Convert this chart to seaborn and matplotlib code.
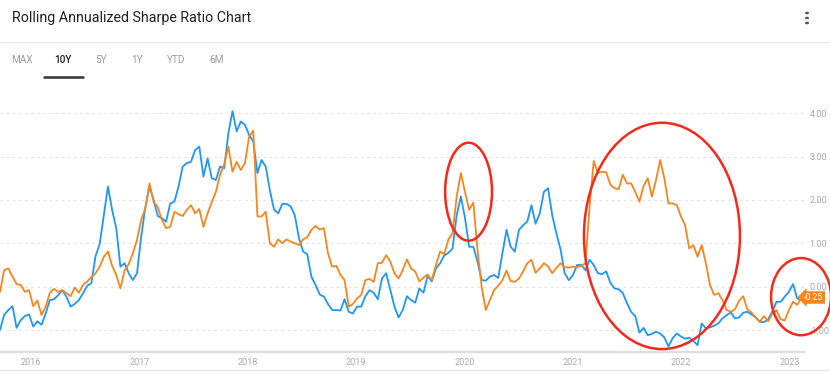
import numpy as np
import pandas as pd
import matplotlib
matplotlib.use("Agg")
import matplotlib.pyplot as plt
import matplotlib.dates as mdates
import matplotlib.transforms as mtransforms
from matplotlib.patches import Ellipse
from matplotlib.lines import Line2D
import seaborn as sns

# rolling annualized sharpe ratio, every 2 weeks
start_date = "2015-09-18"
end_date = "2023-02-19"

fund_blue = [
    -1.00, -0.65, -0.54, -0.45, -0.95, -0.77, -0.68, -0.64, -0.92, -0.80,
    -0.88, -0.62, -0.31, -0.29, -0.20, -0.08, -0.23, -0.46, -0.40, -0.31,
    -0.15, 0.02, 0.08, 0.70, 0.98, 1.65, 2.31, 1.77, 1.35, 0.46,
    0.54, 0.31, 0.15, 0.31, 1.15, 1.83, 2.31, 2.00, 1.63, 1.58,
    1.50, 1.92, 1.96, 2.31, 2.77, 2.85, 2.88, 3.15, 3.23, 2.54,
    2.96, 2.50, 2.46, 2.77, 2.73, 3.54, 4.05, 3.58, 3.81, 3.73,
    3.50, 3.35, 2.62, 2.92, 2.77, 2.22, 1.78, 1.69, 1.91, 1.91,
    1.85, 1.65, 1.12, 0.81, 0.75, 0.23, 0.04, -0.18, -0.23, -0.40,
    -0.54, -0.54, -0.55, -0.29, -0.58, -0.62, -0.46, -0.46, -0.22, -0.08,
    -0.14, -0.29, 0.19, 0.31, -0.08, -0.46, -0.71, -0.54, -0.22, -0.31,
    -0.37, -0.04, -0.14, 0.25, 0.12, 0.42, 0.54, 0.72, 0.78, 0.88,
    1.65, 2.08, 1.58, 0.92, 0.92, 0.58, 0.15, 0.14, 0.23, 0.27,
    0.20, 0.77, 1.31, 0.92, 0.81, 1.31, 1.42, 1.50, 1.88, 1.45,
    1.69, 2.19, 2.27, 1.65, 1.23, 0.86, 0.31, 0.15, 0.27, 0.50,
    0.50, 0.38, 0.62, 0.50, 0.31, 0.29, 0.35, 0.09, -0.04, -0.06,
    -0.15, -0.38, -0.58, -0.68, -1.06, -0.95, -1.12, -1.09, -1.04, -1.08,
    -1.17, -1.38, -1.19, -1.08, -1.15, -1.20, -1.18, -1.25, -1.35, -0.85,
    -0.96, -0.94, -0.90, -0.85, -0.73, -0.66, -0.59, -0.73, -0.71, -0.60,
    -0.58, -0.64, -0.71, -0.81, -0.82, -0.75, -0.58, -0.35, -0.35, -0.23,
    -0.12, 0.06, -0.27, -0.31,
]

fund_orange = [
    -0.12, 0.38, 0.42, 0.23, 0.06, 0.04, -0.12, -0.08, -0.45, -0.32,
    -0.65, -0.46, -0.14, -0.05, -0.12, -0.08, -0.15, -0.22, -0.02, -0.14,
    0.04, 0.12, 0.22, 0.31, 0.46, 0.69, 0.81, 0.48, 0.27, -0.04,
    0.37, 0.52, 0.77, 1.08, 1.54, 1.80, 2.38, 1.96, 1.83, 1.54,
    1.35, 1.38, 1.73, 1.67, 1.63, 1.77, 1.88, 1.69, 1.79, 1.38,
    1.69, 1.95, 2.19, 2.58, 2.83, 3.23, 2.65, 2.88, 2.69, 2.85,
    3.46, 3.60, 1.62, 1.62, 1.73, 1.00, 0.92, 1.09, 1.00, 1.09,
    1.04, 1.00, 0.96, 1.09, 1.14, 1.31, 1.40, 1.32, 1.35, 0.77,
    0.46, 0.48, 0.27, 0.15, -0.46, -0.40, -0.27, -0.19, 0.15, 0.18,
    0.11, 0.54, 0.55, 0.73, 0.58, 0.31, 0.19, 0.38, 0.63, 0.42,
    0.35, 0.12, 0.21, 0.28, 0.15, 0.50, 0.81, 0.75, 1.09, 1.23,
    2.08, 2.62, 2.18, 1.77, 1.94, 0.85, 0.00, -0.54, -0.31, -0.08,
    0.02, 0.15, 0.37, 0.13, 0.11, 0.19, 0.35, 0.54, 0.62, 0.32,
    0.42, 0.54, 0.47, 0.31, 0.43, 0.54, 0.45, 0.44, 0.46, 0.45,
    0.48, 0.54, 1.85, 2.90, 2.62, 2.65, 2.64, 2.35, 2.27, 2.25,
    2.58, 2.38, 2.38, 2.19, 1.96, 2.32, 2.50, 2.08, 2.46, 2.92,
    2.50, 1.92, 1.92, 1.88, 1.62, 1.42, 0.88, 0.96, 0.69, 0.96,
    0.54, 0.04, -0.19, -0.15, -0.31, -0.54, -0.58, -0.52, -0.33, -0.22,
    -0.52, -0.60, -0.71, -0.81, -0.68, -0.80, -0.62, -0.54, -0.75, -0.78,
    -0.54, -0.35, -0.42, -0.25,
]

# red hand drawn circles: centre date, centre value, width (days), height
circles = [
    ("2020-01-15", 2.19, 158, 2.26),
    ("2021-10-28", 1.17, 526, 5.22),
    ("2023-02-09", -0.23, 202, 1.78),
]

tabs = ["MAX", "10Y", "5Y", "1Y", "YTD", "6M"]
tab_x = [22, 63, 101, 137, 176, 217]
y_ticks = [-1, 0, 1, 2, 3, 4]

BLUE = "#2196F3"
ORANGE = "#F5861F"

dates = pd.date_range(start_date, periods=len(fund_blue), freq="14D")
df = pd.DataFrame({"date": dates, "blue": fund_blue, "orange": fund_orange})

sns.set_style("white")
plt.rcParams["font.family"] = ["Roboto", "DejaVu Sans"]

W, H = 830, 374
fig = plt.figure(figsize=(W / 100, H / 100), dpi=100)


def fx(x):
    return x / W


def fy(y):
    return 1 - y / H


ax = fig.add_axes([0, fy(352), fx(804), fy(92) - fy(352)])

sns.lineplot(data=df, x="date", y="blue", ax=ax, color=BLUE, lw=1.3)
sns.lineplot(data=df, x="date", y="orange", ax=ax, color=ORANGE, lw=1.3)

ax.set_xlim(pd.Timestamp(start_date), pd.Timestamp(end_date))
ax.set_ylim(-1.507, 4.49)
ax.set_xlabel("")
ax.set_ylabel("")

ax.xaxis.set_major_locator(mdates.YearLocator())
ax.xaxis.set_major_formatter(mdates.DateFormatter("%Y"))
ax.yaxis.tick_right()
ax.set_yticks(y_ticks)
ax.set_yticklabels([f"{t:.2f}" for t in y_ticks])
ax.tick_params(axis="x", length=0, pad=4, labelsize=6.5, labelcolor="#a8a8a8")
ax.tick_params(axis="y", length=0, pad=4, labelsize=6.5, labelcolor="#a8a8a8")

ax.grid(axis="y", color="#e4e4e4", lw=0.8, linestyle=(0, (2.5, 3)))
ax.grid(axis="x", visible=False)
for side in ["top", "left", "right"]:
    ax.spines[side].set_visible(False)
ax.spines["bottom"].set_color("#dedede")
ax.spines["bottom"].set_linewidth(1.6)

# red circles
for d, v, w, h in circles:
    e = Ellipse((mdates.date2num(pd.Timestamp(d)), v), w, h,
                fill=False, ec="#F5291B", lw=1.8, clip_on=False, zorder=5)
    ax.add_patch(e)

# last value tag
last = fund_orange[-1]
trans = mtransforms.blended_transform_factory(ax.transAxes, ax.transData)
ax.text(1.0, last, f"{last:.2f}", transform=trans, ha="left", va="center",
        fontsize=6.3, color="white", zorder=6, clip_on=False,
        bbox=dict(boxstyle="larrow,pad=0.2", fc=ORANGE, ec="none"))

# header
fig.text(fx(12), fy(18), "Rolling Annualized Sharpe Ratio Chart",
         fontsize=10.3, color="#202124", va="center", ha="left")
for k in range(3):
    fig.add_artist(plt.Circle((fx(807), fy(13 + 5 * k)), 1.3 / W,
                              transform=fig.transFigure, color="#555555"))
fig.add_artist(Line2D([0, 1], [fy(42), fy(42)], color="#e6e6e6", lw=1))
for name, x in zip(tabs, tab_x):
    active = name == "10Y"
    fig.text(fx(x), fy(60), name, fontsize=7.2, ha="center", va="center",
             color="#222222" if active else "#9a9a9a",
             fontweight="medium" if active else "normal")
fig.add_artist(Line2D([fx(44), fx(83)], [fy(77), fy(77)], color="#333333", lw=1.8))
fig.add_artist(Line2D([0, 1], [fy(370), fy(370)], color="#e6e6e6", lw=1))

fig.savefig("out.png", dpi=100)
